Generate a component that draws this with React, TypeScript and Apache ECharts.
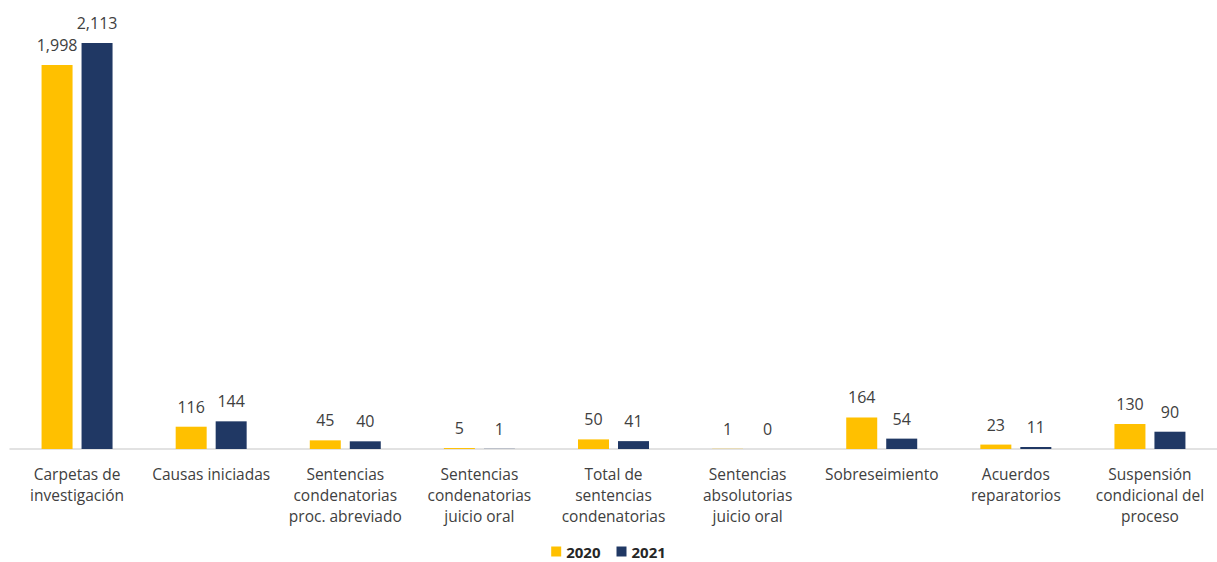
import React, { useEffect, useRef } from "react";
import * as echarts from "echarts";

const categories = [
  "Carpetas de\ninvestigación",
  "Causas iniciadas",
  "Sentencias\ncondenatorias\nproc. abreviado",
  "Sentencias\ncondenatorias\njuicio oral",
  "Total de\nsentencias\ncondenatorias",
  "Sentencias\nabsolutorias\njuicio oral",
  "Sobreseimiento",
  "Acuerdos\nreparatorios",
  "Suspensión\ncondicional del\nproceso",
];
const values2020 = [1998, 116, 45, 5, 50, 1, 164, 23, 130];
const values2021 = [2113, 144, 40, 1, 41, 0, 54, 11, 90];

const FONT = "'Open Sans', Lato, sans-serif";

export default function App() {
  const ref = useRef<HTMLDivElement>(null);
  useEffect(() => {
    if (!ref.current) return;
    const chart = echarts.init(ref.current, undefined, { renderer: "svg" });
    const label = {
      show: true,
      position: "top",
      distance: 12,
      color: "#404040",
      fontSize: 16,
      fontFamily: FONT,
      formatter: (p: any) => Number(p.value).toLocaleString("en-US"),
    };
    chart.setOption({
      animation: false,
      backgroundColor: "#ffffff",
      grid: { left: 10, right: 0, top: 43, bottom: 113, containLabel: false },
      legend: {
        top: 544,
        padding: 0,
        left: "center",
        itemWidth: 10,
        itemHeight: 10,
        itemGap: 16,
        icon: "rect",
        textStyle: { color: "#262626", fontSize: 15, fontWeight: "bold", fontFamily: FONT },
        data: ["2020", "2021"],
      },
      xAxis: {
        type: "category",
        data: categories,
        axisLine: { lineStyle: { color: "#d9d9d9", width: 1.5 } },
        axisTick: { show: false },
        axisLabel: {
          interval: 0,
          color: "#404040",
          fontSize: 15.5,
          lineHeight: 21,
          margin: 14,
          fontFamily: FONT,
        },
      },
      yAxis: {
        type: "value",
        min: 0,
        max: 2113,
        show: false,
        splitLine: { show: false },
      },
      series: [
        {
          name: "2020",
          type: "bar",
          data: values2020,
          barWidth: 31,
          barGap: "29%",
          itemStyle: { color: "#FFC000" },
          label,
        },
        {
          name: "2021",
          type: "bar",
          data: values2021,
          barWidth: 31,
          itemStyle: { color: "#203864" },
          label,
        },
      ],
    });
    return () => chart.dispose();
  }, []);
  return (
    <div
      ref={ref}
      style={{ position: "absolute", left: 0, top: 0, width: 1217, height: 562 }}
    />
  );
}
